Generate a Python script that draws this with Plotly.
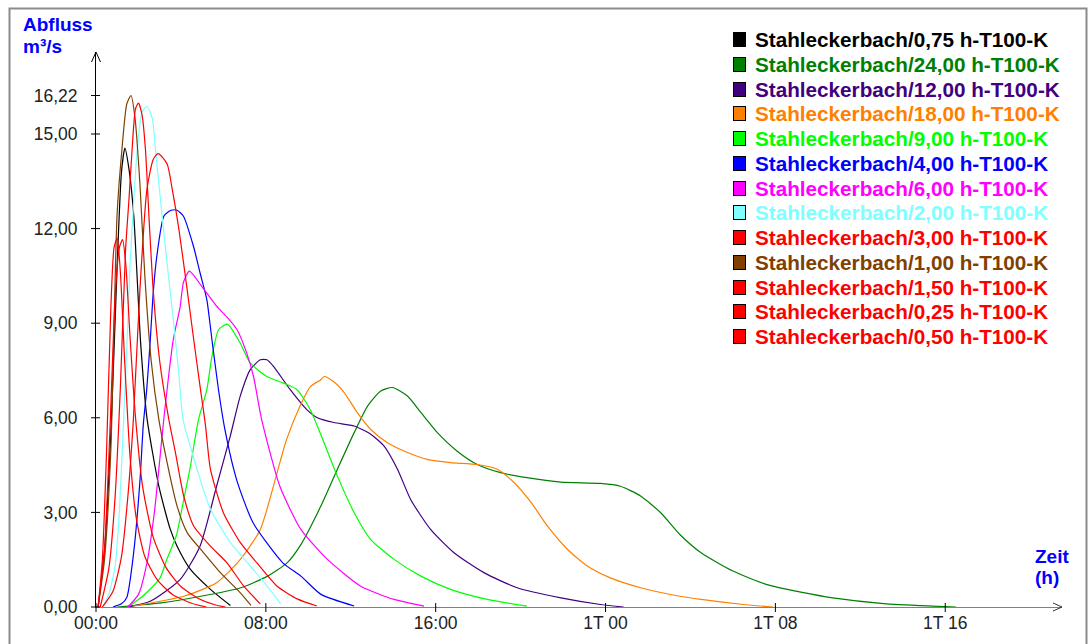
import plotly.graph_objects as go

# ---------------- data (hours, m³/s) ----------------
legend_names = ["Stahleckerbach/0,75 h-T100-K", "Stahleckerbach/24,00 h-T100-K",
                "Stahleckerbach/12,00 h-T100-K", "Stahleckerbach/18,00 h-T100-K",
                "Stahleckerbach/9,00 h-T100-K", "Stahleckerbach/4,00 h-T100-K",
                "Stahleckerbach/6,00 h-T100-K", "Stahleckerbach/2,00 h-T100-K",
                "Stahleckerbach/3,00 h-T100-K", "Stahleckerbach/1,00 h-T100-K",
                "Stahleckerbach/1,50 h-T100-K", "Stahleckerbach/0,25 h-T100-K",
                "Stahleckerbach/0,50 h-T100-K"]
series_colors = ["#000000", "#008000", "#400080", "#ff8000", "#00ff00", "#0000ff",
                 "#ff00ff", "#80ffff", "#ff0000", "#804000", "#ff0000", "#ff0000", "#ff0000"]

t_075 = [0.1, 0.4, 0.7, 1.0, 1.2, 1.36, 1.55, 1.78, 2.1, 2.4, 2.96, 3.5, 3.82, 4.45, 5.39, 6.33]
q_075 = [0, 1.8, 5.5, 10.9, 13.8, 14.55, 13.9, 12.4, 8.4, 6.0, 3.83, 2.46, 1.93, 1.19, 0.56, 0.05]

t_2400 = [1.0, 3.06, 4.94, 6.82, 8.08, 9.0, 9.65, 10.59, 11.37, 12.16, 12.79, 13.41, 13.96, 14.67,
          15.3, 16.08, 17.0, 17.96, 19.06, 20.3, 21.9, 23.76, 24.7, 25.65, 26.6, 27.5, 28.5, 30.0,
          31.6, 33.2, 34.7, 37.1, 39.4, 40.5]
q_2400 = [0, 0.13, 0.34, 0.61, 0.98, 1.4, 1.98, 3.2, 4.37, 5.53, 6.37, 6.85, 6.96, 6.69,
          6.17, 5.53, 4.95, 4.52, 4.26, 4.1, 3.96, 3.92, 3.83, 3.52, 2.99, 2.3, 1.72, 1.14,
          0.71, 0.47, 0.29, 0.11, 0.03, 0]

t_1200 = [1.5, 2.55, 3.96, 4.9, 5.68, 6.32, 6.79, 7.26, 7.74, 8.05, 8.36, 9.15, 9.94, 10.43,
          11.2, 12.16, 12.94, 13.57, 14.2, 14.82, 15.76, 16.86, 18.27, 19.84, 21.9, 23.76, 24.85]
q_1200 = [0, 0.18, 0.87, 1.93, 3.83, 5.41, 6.68, 7.52, 7.84, 7.84, 7.63, 6.89, 6.25, 6.0,
          5.85, 5.74, 5.48, 5.1, 4.37, 3.41, 2.46, 1.72, 1.09, 0.61, 0.29, 0.08, 0]

t_1800 = [1.76, 4.13, 5.68, 6.8, 7.74, 8.66, 8.97, 9.6, 10.1, 10.57, 10.75, 11.2, 11.69, 12.3,
          12.94, 13.73, 14.67, 15.6, 16.7, 17.96, 18.9, 19.7, 20.5, 21.26, 22.2, 23.14, 24.2,
          25.65, 27.5, 28.5, 30.5, 31.9]
q_1800 = [0.03, 0.34, 0.77, 1.51, 2.46, 4.58, 5.3, 6.36, 6.99, 7.2, 7.31, 7.14, 6.8, 6.17,
          5.63, 5.21, 4.9, 4.68, 4.58, 4.52, 4.37, 3.94, 3.31, 2.57, 1.83, 1.3, 0.93,
          0.61, 0.34, 0.24, 0.08, 0]

t_900 = [1.5, 2.2, 3.0, 3.33, 3.8, 4.1, 4.43, 4.83, 5.22, 5.46, 5.78, 6.19, 6.79, 7.26, 8.05,
         8.83, 9.47, 10.1, 10.57, 11.37, 12.16, 12.94, 14.04, 15.3, 16.7, 18.43, 20.3]
q_900 = [0, 0.34, 0.9, 1.5, 2.3, 3.3, 4.4, 5.95, 6.89, 7.95, 8.8, 8.97, 8.37, 7.74, 7.31,
         7.1, 6.89, 6.25, 5.5, 4.15, 2.99, 2.14, 1.51, 0.98, 0.56, 0.24, 0.03]

t_400 = [0.8, 1.2, 1.45, 1.77, 2.07, 2.23, 2.39, 2.55, 2.7, 2.86, 3.2, 3.54, 3.82, 4.12, 4.59,
         4.9, 5.22, 5.46, 5.77, 6.08, 6.64, 7.4, 8.8, 9.65, 10.6, 12.16]
q_400 = [0, 0.1, 0.3, 1.7, 4.0, 5.8, 6.9, 8.4, 10.0, 11.1, 12.4, 12.58, 12.58, 12.39, 11.44,
         10.6, 9.75, 8.48, 6.89, 5.6, 4.0, 2.67, 1.4, 0.98, 0.4, 0.03]

t_600 = [1.5, 2.0, 2.4, 2.75, 2.95, 3.2, 3.64, 3.96, 4.12, 4.4, 4.98, 5.69, 6.16, 6.64, 7.1,
         7.42, 7.8, 8.66, 9.65, 10.9, 12.47, 14.04, 15.45]
q_600 = [0, 0.4, 1.4, 3.0, 4.3, 6.0, 8.48, 9.5, 10.3, 10.65, 10.17, 9.53, 9.2, 8.8, 8.05,
         7.31, 5.95, 3.83, 2.46, 1.51, 0.66, 0.24, 0.03]

t_200 = [0.3, 0.6, 0.9, 1.1, 1.3, 1.45, 1.6, 1.78, 1.94, 2.17, 2.4, 2.65, 2.8, 3.04, 3.3, 3.66,
         3.9, 4.1, 4.76, 5.39, 6.33, 7.27, 8.06, 8.7]
q_200 = [0, 0.4, 1.3, 3.0, 5.95, 8.2, 10.8, 12.9, 14.5, 15.7, 15.88, 15.5, 14.5, 12.9, 11.2, 9.0,
         7.4, 5.95, 4.37, 3.1, 2.04, 1.3, 0.66, 0.1]

t_300 = [0.3, 0.8, 1.2, 1.5, 1.76, 2.07, 2.4, 2.7, 2.93, 3.35, 3.59, 3.9, 4.29, 4.6, 4.92, 5.15,
         5.39, 6.0, 6.8, 7.58, 8.53, 9.5, 10.4]
q_300 = [0, 0.5, 1.6, 3.5, 5.95, 10.08, 13.25, 14.2, 14.38, 14.05, 13.25, 12.0, 10.08, 8.49, 6.9,
         5.8, 4.37, 2.99, 2.04, 1.4, 0.66, 0.25, 0.03]

t_100 = [0.1, 0.4, 0.7, 0.99, 1.22, 1.45, 1.65, 1.84, 2.07, 2.3, 2.6, 2.96, 3.35, 3.82, 4.3,
         5.07, 5.86, 6.8, 7.3]
q_100 = [0, 1.5, 5.0, 12.4, 14.5, 15.95, 16.22, 15.5, 13.4, 10.5, 7.8, 5.95, 4.58, 3.2, 2.35,
         1.72, 1.09, 0.45, 0.05]

t_150 = [0.2, 0.6, 0.9, 1.15, 1.39, 1.55, 1.7, 1.86, 2.0, 2.17, 2.33, 2.5, 2.7, 3.0, 3.43, 3.74,
         4.13, 4.6, 5.39, 6.17, 6.96, 7.74]
q_150 = [0, 1.2, 3.5, 7.0, 11.3, 12.9, 14.5, 15.8, 15.98, 15.6, 14.5, 12.3, 10.0, 7.8, 5.95, 4.9,
         3.52, 2.57, 1.93, 1.4, 0.66, 0.1]

t_025 = [0.1, 0.3, 0.5, 0.7, 0.85, 1.0, 1.15, 1.35, 1.6, 1.9, 2.3, 2.9, 3.6, 4.5, 5.2]
q_025 = [0, 1.5, 5.0, 9.5, 11.4, 11.7, 10.6, 7.8, 4.8, 2.8, 1.6, 0.85, 0.4, 0.12, 0]

t_050 = [0.1, 0.4, 0.65, 0.9, 1.1, 1.25, 1.4, 1.6, 1.85, 2.2, 2.7, 3.3, 4.0, 4.8, 5.6, 6.1]
q_050 = [0, 1.8, 5.5, 9.8, 11.4, 11.65, 10.9, 8.6, 6.1, 3.8, 2.2, 1.25, 0.65, 0.28, 0.07, 0]

series_t = [t_075, t_2400, t_1200, t_1800, t_900, t_400, t_600, t_200, t_300, t_100, t_150, t_025, t_050]
series_q = [q_075, q_2400, q_1200, q_1800, q_900, q_400, q_600, q_200, q_300, q_100, q_150, q_025, q_050]

y_tick_vals = [0, 3, 6, 9, 12, 15, 16.22]
y_tick_text = ["0,00", "3,00", "6,00", "9,00", "12,00", "15,00", "16,22"]
x_tick_vals = [0, 8, 16, 24, 32, 40]
x_tick_text = ["00:00", "08:00", "16:00", "1T 00", "1T 08", "1T 16"]

# ---------------- layout geometry ----------------
W, H = 1090, 644
ML, MR, MT, MB = 96, 28, 52, 37
PW, PH = W - ML - MR, H - MT - MB
X_MAX, Y_MAX = 45.5, 17.6


def px_x(px):
    return (px - ML) / PW


def px_y(py):
    return (H - MB - py) / PH


fig = go.Figure()
for name, col, tt, qq in zip(legend_names, series_colors, series_t, series_q):
    fig.add_trace(go.Scatter(x=tt, y=qq, mode="lines", name=name, showlegend=False,
                             line=dict(color=col, width=1.2, shape="spline", smoothing=0.6)))

shapes = []
# frame
shapes.append(dict(type="rect", xref="paper", yref="paper",
                   x0=px_x(9.5), x1=px_x(1086.5), y0=px_y(700), y1=px_y(8.5),
                   line=dict(color="#8c8c8c", width=2), layer="below"))
# tick crosses (paper coords derived from tick values)
for v in y_tick_vals:
    yp = v / Y_MAX
    shapes.append(dict(type="line", xref="paper", yref="paper",
                       x0=-5 / PW, x1=4 / PW, y0=yp, y1=yp, line=dict(color="#000", width=1)))
for v in x_tick_vals:
    xp = v / X_MAX
    shapes.append(dict(type="line", xref="paper", yref="paper",
                       x0=xp, x1=xp, y0=-5 / PH, y1=4 / PH, line=dict(color="#000", width=1)))
# arrow heads
shapes.append(dict(type="path", xref="paper", yref="paper",
                   path=f"M {1 - 9 / PW},{4 / PH} L 1,0 L {1 - 9 / PW},{-4 / PH}",
                   line=dict(color="#333", width=1)))
shapes.append(dict(type="path", xref="paper", yref="paper",
                   path=f"M {-4.5 / PW},{1 - 10 / PH} L 0,1 L {4.5 / PW},{1 - 10 / PH}",
                   line=dict(color="#000", width=1)))

ann = []
title_font = dict(family="Liberation Sans, Arial, sans-serif", size=19, color="#0000ff")
ann.append(dict(text="<b>Abfluss</b>", x=px_x(21), y=px_y(24), xref="paper", yref="paper",
                xanchor="left", yanchor="middle", showarrow=False, font=title_font))
ann.append(dict(text="<b>m³/s</b>", x=px_x(21), y=px_y(46), xref="paper", yref="paper",
                xanchor="left", yanchor="middle", showarrow=False, font=title_font))
ann.append(dict(text="<b>Zeit</b>", x=px_x(1033), y=px_y(556), xref="paper", yref="paper",
                xanchor="left", yanchor="middle", showarrow=False, font=title_font))
ann.append(dict(text="<b>(h)</b>", x=px_x(1033), y=px_y(577), xref="paper", yref="paper",
                xanchor="left", yanchor="middle", showarrow=False, font=title_font))

# legend
for i, (name, col) in enumerate(zip(legend_names, series_colors)):
    yc = 39.5 + i * 24.75
    ann.append(dict(text=" ", x=px_x(739.5), y=px_y(yc), xref="paper", yref="paper",
                    xanchor="center", yanchor="middle", showarrow=False, width=11, height=13,
                    bgcolor=col, bordercolor="#000", borderwidth=1, borderpad=0,
                    font=dict(size=4)))
    ann.append(dict(text="<b>" + name + "</b>", x=px_x(753), y=px_y(yc), xref="paper", yref="paper",
                    xanchor="left", yanchor="middle", showarrow=False,
                    font=dict(family="Liberation Sans, Arial, sans-serif", size=20.7, color=col)))

tick_font = dict(family="Liberation Sans, Arial, sans-serif", size=17.5, color="#222")
fig.update_layout(
    width=W, height=H, margin=dict(l=ML, r=MR, t=MT, b=MB, pad=0, autoexpand=False),
    paper_bgcolor="white", plot_bgcolor="white", showlegend=False,
    xaxis=dict(range=[0, X_MAX], showgrid=False, zeroline=False, showline=True,
               linecolor="#808080", linewidth=1, tickmode="array", tickvals=x_tick_vals,
               ticktext=x_tick_text, ticks="", tickfont=tick_font, layer="below traces",
               automargin=False),
    yaxis=dict(range=[0, Y_MAX], showgrid=False, zeroline=False, showline=True,
               linecolor="#000", linewidth=1, tickmode="array", tickvals=y_tick_vals,
               ticktext=y_tick_text, ticks="", tickfont=tick_font, ticklabelstandoff=14,
               layer="below traces", automargin=False),
    shapes=shapes, annotations=ann,
)

fig.write_html("out.html", config={"displayModeBar": False},
               post_script="document.body.style.margin='0';")
